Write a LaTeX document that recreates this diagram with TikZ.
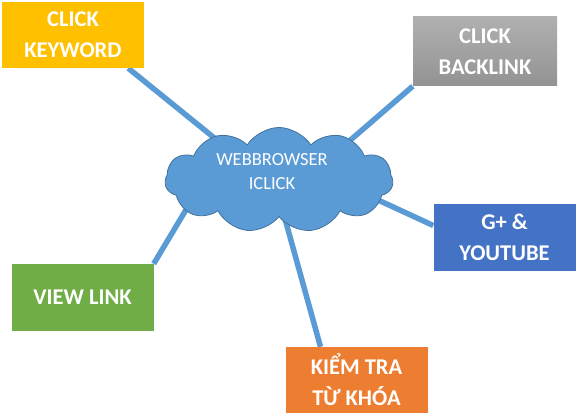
\documentclass[tikz,border=0pt]{standalone}
\usepackage{fontspec}
\setmainfont{Carlito}
\usetikzlibrary{shapes.symbols}

\pgfdeclarelayer{bg}
\pgfsetlayers{bg,main}

\definecolor{cblue}{HTML}{5B9BD5}
\definecolor{cline}{HTML}{41719C}
\definecolor{cyellow}{HTML}{FFC000}
\definecolor{cgreen}{HTML}{70AD47}
\definecolor{corange}{HTML}{ED7D31}
\definecolor{cdark}{HTML}{4472C4}
\definecolor{cgraytop}{HTML}{B0B0B0}
\definecolor{cgraybot}{HTML}{939393}

\begin{document}
\begin{tikzpicture}[x=1pt, y=-1pt,
  box/.style={text=white, font=\bfseries\fontsize{22.5}{31}\selectfont, align=center, inner sep=0pt, minimum width=142pt, minimum height=67pt},
  link/.style={draw=cblue, line width=5.5pt}]
\useasboundingbox (0,0) rectangle (579,417);

\node[cloud, cloud puffs=11, cloud puff arc=115, aspect=2.2, fill=cblue, draw=cline, line width=0.8pt,
  minimum width=228pt, minimum height=105pt, inner sep=0pt,
  label={[text=white, align=center, font=\fontsize{18.5}{24}\selectfont, xshift=-7pt, yshift=8pt]center:WEBBROWSER\\ICLICK}] (c0) at (279,180) {};

\node[box, fill=cyellow, minimum height=66pt] (b1) at (73,35) {CLICK\\KEYWORD};
\node[box, top color=cgraytop, bottom color=cgraybot, minimum width=144pt, minimum height=69pt] (b2) at (485,51.5) {CLICK\\BACKLINK};
\node[box, fill=cdark] (b3) at (504.5,237.5) {G+ \&\\YOUTUBE};
\node[box, fill=cgreen] (b4) at (82.5,297.5) {VIEW LINK};
\node[box, fill=corange, minimum height=66pt] (b5) at (356.5,380) {KIỂM TRA\\TỪ KHÓA};

\begin{pgfonlayer}{bg}
\draw[link] (b1.-31) -- ([xshift=-19pt,yshift=5pt]c0.center);
\draw[link] (b2.south west) -- ([xshift=31pt,yshift=5pt]c0.center);
\draw[link] ([yshift=12pt]b3.west) -- ([xshift=21pt,yshift=16pt]c0.center);
\draw[link] (b4.north east) -- ([xshift=-74pt,yshift=2pt]c0.center);
\draw[link] ([xshift=-36pt]b5.north) -- ([xshift=-2pt,yshift=-10pt]c0.center);
\end{pgfonlayer}
\end{tikzpicture}
\end{document}
